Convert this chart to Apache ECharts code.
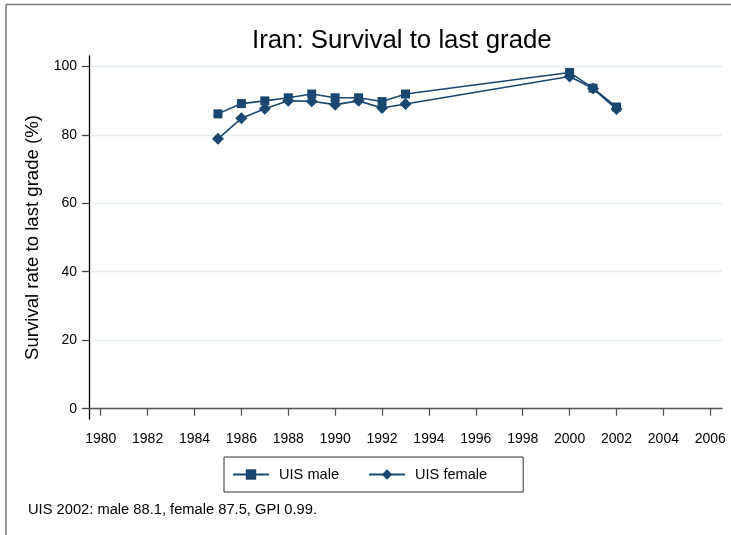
<!DOCTYPE html>
<html>
<head>
<meta charset="utf-8">
<script src="https://cdn.jsdelivr.net/npm/echarts@6/dist/echarts.min.js"></script>
<style>
  html, body { margin: 0; padding: 0; background: #fff; }
  #chart { width: 731px; height: 535px; }
</style>
</head>
<body>
<div id="chart"></div>
<script>
// values
var years = [1985, 1986, 1987, 1988, 1989, 1990, 1991, 1992, 1993, 2000, 2001, 2002];
var male = [86.1, 89.1, 89.9, 90.8, 91.9, 90.8, 90.8, 89.7, 91.9, 98.2, 93.6, 88.1];
var female = [78.8, 84.8, 87.6, 89.9, 89.8, 88.8, 89.9, 87.8, 89.0, 97.0, 93.5, 87.5];
var xTicks = [1980, 1982, 1984, 1986, 1988, 1990, 1992, 1994, 1996, 1998, 2000, 2002, 2004, 2006];
var yTicks = [0, 20, 40, 60, 80, 100];

var navy = '#1a476f';
var font = "'Liberation Sans', Arial, sans-serif";

function pairs(xs, ys) {
    return xs.map(function (x, i) { return [x, ys[i]]; });
}

var myChart = echarts.init(document.getElementById('chart'));

var option = {
    animation: false,
    backgroundColor: '#fff',
    textStyle: { fontFamily: font },
    title: {
        text: 'Iran: Survival to last grade',
        left: 252,
        top: 28,
        padding: 0,
        textStyle: { fontSize: 25.8, fontWeight: 'normal', color: '#000', fontFamily: font }
    },
    grid: { left: 89, right: 9, top: 56, bottom: 116, containLabel: false },
    legend: {
        left: 224,
        top: 457,
        padding: [10, 36, 10, 8],
        borderColor: '#333',
        borderWidth: 1,
        itemWidth: 36,
        itemHeight: 13,
        itemGap: 29,
        textStyle: { fontSize: 14.6, color: '#000', fontFamily: font, padding: [0, 0, 0, 5] },
        data: ['UIS male', 'UIS female']
    },
    xAxis: {
        type: 'value',
        min: 1979.5,
        max: 2006.5,
        axisLine: { lineStyle: { color: '#555', width: 1.3 } },
        axisTick: { customValues: xTicks, length: 7, lineStyle: { color: '#555', width: 1.3 } },
        axisLabel: {
            customValues: xTicks,
            margin: 13,
            fontSize: 14,
            color: '#000',
            fontFamily: font,
            formatter: function (v) { return String(v); }
        },
        splitLine: { show: false }
    },
    yAxis: {
        type: 'value',
        min: -3,
        max: 103,
        name: 'Survival rate to last grade (%)',
        nameLocation: 'middle',
        nameRotate: 90,
        nameGap: 44,
        nameTextStyle: { fontSize: 18.6, color: '#000', fontFamily: font },
        axisLine: { show: true, lineStyle: { color: '#000', width: 1.3 } },
        axisTick: { show: true, inside: false, customValues: yTicks, length: 7, lineStyle: { color: '#444', width: 1.3 } },
        axisLabel: { customValues: yTicks, margin: 12, fontSize: 14, color: '#000', fontFamily: font },
        splitLine: { show: true, lineStyle: { color: '#e4eef0', width: 1.3 } }
    },
    graphic: [
        {
            type: 'line',
            shape: { x1: 6, y1: 4.5, x2: 731, y2: 4.5 },
            style: { stroke: '#777', lineWidth: 1.5 },
            silent: true
        },
        {
            type: 'line',
            shape: { x1: 6, y1: 4.5, x2: 6, y2: 535 },
            style: { stroke: '#777', lineWidth: 1.5 },
            silent: true
        },
        {
            type: 'text',
            left: 28,
            top: 502,
            style: {
                text: 'UIS 2002: male 88.1, female 87.5, GPI 0.99.',
                font: '14.7px ' + font,
                fill: '#000'
            }
        }
    ],
    series: [
        {
            name: 'UIS male',
            type: 'line',
            data: pairs(years, male),
            symbol: 'rect',
            symbolSize: 9,
            showAllSymbol: true,
            lineStyle: { color: navy, width: 1.6 },
            itemStyle: { color: navy }
        },
        {
            name: 'UIS female',
            type: 'line',
            data: pairs(years, female),
            symbol: 'diamond',
            symbolSize: 12,
            showAllSymbol: true,
            lineStyle: { color: navy, width: 1.6 },
            itemStyle: { color: navy }
        }
    ]
};

myChart.setOption(option);
window.addEventListener('resize', function () {
    myChart.resize();
});
</script>
</body>
</html>
